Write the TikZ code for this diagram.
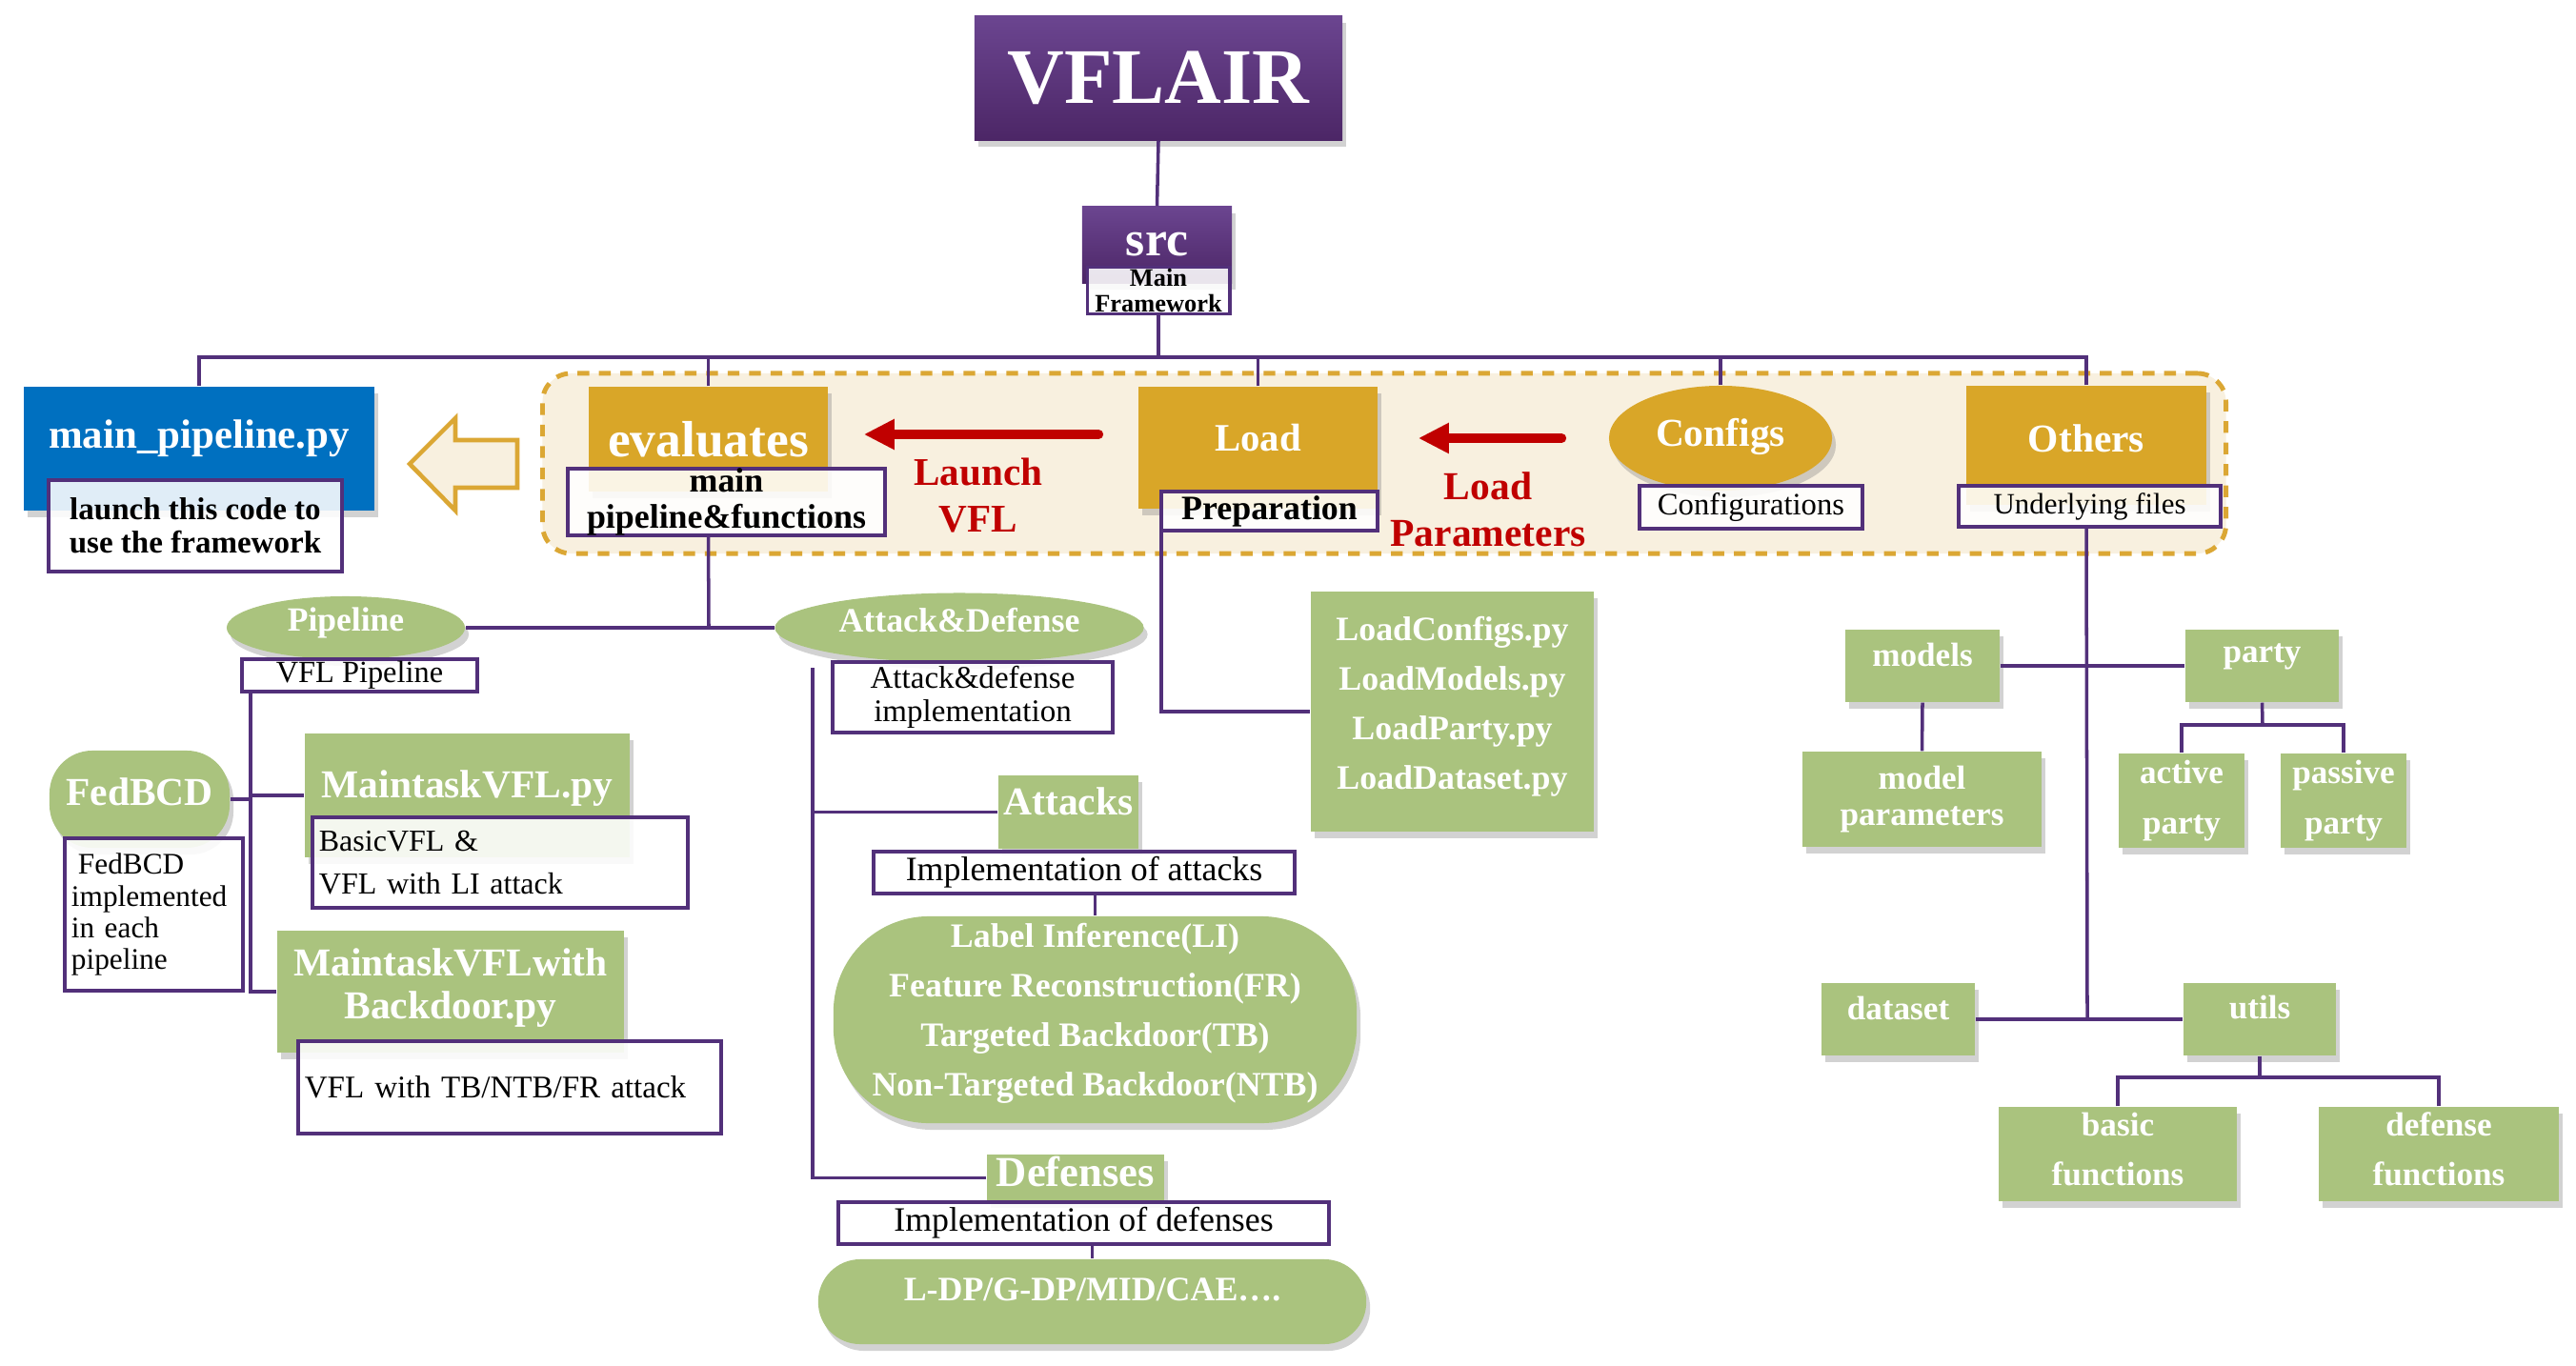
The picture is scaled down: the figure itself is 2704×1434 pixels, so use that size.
\documentclass[tikz,border=0pt]{standalone}
\usepackage{fontspec}
\setmainfont{Liberation Serif}
\usetikzlibrary{shadows,arrows.meta,calc,shapes.geometric}
\definecolor{vpurpleT}{HTML}{6B4590}
\definecolor{vpurpleB}{HTML}{4C2666}
\definecolor{lnpurple}{HTML}{52307A}
\definecolor{gold}{HTML}{D9A628}
\definecolor{vgreen}{HTML}{AAC37E}
\definecolor{vblue}{HTML}{0070C0}
\definecolor{vred}{HTML}{C00000}
\definecolor{cream}{HTML}{F8F0DF}
\definecolor{dashgold}{HTML}{DBA734}
\newcommand\fsz[2]{\fontsize{#1}{#2}\selectfont}
\begin{document}
\begin{tikzpicture}[x=0.01cm,y=-0.01cm,
  conn/.style={draw=lnpurple,line width=1pt},
  shad/.style={drop shadow={shadow xshift=0.04cm,shadow yshift=-0.07cm,opacity=0.35}},
  pbox/.style={top color=vpurpleT,bottom color=vpurpleB,draw=none,text=white,inner sep=0pt,shad},
  gbox/.style={fill=gold,text=white,inner sep=0pt,shad},
  grn/.style={fill=vgreen,text=white,inner sep=0pt,align=center,shad},
  lbl/.style={draw=lnpurple,line width=1.1pt,fill=white,fill opacity=0.88,text opacity=1,inner sep=0pt,align=center,text=black},
  txt/.style={inner sep=0pt,align=center},
  wtxt/.style={inner sep=0pt,align=center,text=white},
  redarr/.style={draw=vred,line width=2.8pt,line cap=round,-{Triangle[length=0.32cm,width=0.30cm]}},
]
\fill[white] (0,0) rectangle (2704,1434);
\useasboundingbox (0,0) rectangle (2704,1434);

% dashed region
\node[draw=dashgold,line width=1.4pt,dash pattern=on 3.5pt off 2.9pt,fill=cream,rounded corners=0.3cm,minimum width=17.66cm,minimum height=1.89cm,inner sep=0pt] (region) at (1453,486.5) {};

% top
\node[pbox,minimum width=3.86cm,minimum height=1.30cm,font=\bfseries\fsz{23.5}{28}] (vflair) at (1216,82) {VFLAIR};
\node[pbox,minimum width=1.57cm,minimum height=0.80cm,font=\bfseries\fsz{14.7}{16}] (src) at (1214.5,257) {src};
\node[lbl,minimum width=1.49cm,minimum height=0.49cm,font=\bfseries\fsz{7.5}{7.8}] (srclbl) at (1216,305) {Main\\Framework};

% main pipeline
\node[fill=vblue,inner sep=0pt,shad,minimum width=3.68cm,minimum height=1.30cm] (mainpy) at (209,471) {};
\node[wtxt,font=\bfseries\fsz{12.2}{14}] (mainpy-t) at (209,460) {main\_pipeline.py};
\node[lbl,minimum width=3.08cm,minimum height=0.96cm,font=\bfseries\fsz{9.4}{9.9}] (mainlbl) at (205,552) {launch this code to\\use the framework};
\draw[draw=dashgold,line width=1.3pt,fill=cream,line join=miter] (430,487) -- (478,439) -- (478,462) -- (543,462) -- (543,512) -- (478,512) -- (478,536) -- cycle;

% gold row
\node[gbox,minimum width=2.51cm,minimum height=1.10cm,font=\bfseries\fsz{15.2}{17}] (eval) at (743.5,461) {evaluates};
\node[lbl,minimum width=3.33cm,minimum height=0.70cm,font=\bfseries\fsz{10.2}{10.6}] (evlbl) at (762.5,527) {main\\pipeline\&functions};
\node[gbox,minimum width=2.51cm,minimum height=1.28cm] (load) at (1320.5,470) {};
\node[wtxt,font=\bfseries\fsz{11.6}{13}] (load-t) at (1320.5,460) {Load};
\node[lbl,minimum width=2.27cm,minimum height=0.41cm,font=\bfseries\fsz{10.2}{11}] (prep) at (1332.5,536.5) {Preparation};
\node[ellipse,fill=gold,inner sep=0pt,shad,minimum width=2.34cm,minimum height=1.10cm] (configs) at (1806,460) {};
\node[wtxt,font=\bfseries\fsz{11.8}{13}] (configs-t) at (1806,458) {Configs};
\node[lbl,minimum width=2.34cm,minimum height=0.45cm,font=\fsz{9.3}{10}] (cfglbl) at (1838,532.5) {Configurations};
\node[gbox,minimum width=2.52cm,minimum height=1.25cm] (others) at (2190,467.5) {};
\node[wtxt,font=\bfseries\fsz{11.8}{13}] (others-t) at (2190,460) {Others};
\node[lbl,minimum width=2.75cm,minimum height=0.43cm,font=\fsz{8.8}{10}] (othlbl) at (2193.5,531.5) {Underlying files};

\node[txt,text=vred,font=\bfseries\fsz{11.7}{14}] (launch) at (1027,520) {Launch\\VFL};
\node[txt,text=vred,font=\bfseries\fsz{11.8}{14}] (loadpar) at (1562,535) {Load\\Parameters};
\draw[redarr] ($(load.west)+(-41,-14)$) -- ($(eval.east)+(37,-5)$);
\draw[redarr] ($(configs.west)+(-49,0)$) -- ($(load.east)+(42,-10)$);

% pipeline subtree
\node[ellipse,grn,minimum width=2.50cm,minimum height=0.66cm,text depth=0.18cm,font=\bfseries\fsz{10.1}{12}] (pipe) at (363,659) {Pipeline};
\node[lbl,minimum width=2.47cm,minimum height=0.34cm,font=\fsz{9.2}{10}] (pipelbl) at (377.5,709) {VFL Pipeline};
\node[grn,rounded corners=0.45cm,minimum width=1.89cm,minimum height=1.02cm] (fed) at (146.5,839) {};
\node[wtxt,font=\bfseries\fsz{11.8}{13}] (fed-t) at (146.5,831) {FedBCD};
\node[lbl,align=left,text width=1.73cm,inner xsep=0.07cm,minimum height=1.60cm,font=\fsz{8.9}{9.4}] (fedlbl) at (161.5,960) {\hspace{0.07cm}FedBCD\\implemented\\in each\\pipeline};
\node[grn,minimum width=3.41cm,minimum height=1.30cm] (mt1) at (490.5,835) {};
\node[wtxt,font=\bfseries\fsz{11.8}{13}] (mt1-t) at (490.5,828) {MaintaskVFL.py};
\node[lbl,align=left,text width=3.80cm,inner xsep=0.07cm,minimum height=0.95cm,font=\fsz{9.1}{13}] (mt1lbl) at (525,905.5) {BasicVFL \&\\VFL with LI attack};
\node[grn,minimum width=3.64cm,minimum height=1.28cm] (mt2) at (473,1041) {};
\node[wtxt,font=\bfseries\fsz{11.8}{12.8}] (mt2-t) at (473,1037) {MaintaskVFLwith\\Backdoor.py};
\node[lbl,align=left,text width=4.30cm,inner xsep=0.07cm,minimum height=0.97cm,font=\fsz{9.4}{11}] (mt2lbl) at (535,1141.5) {VFL with TB/NTB/FR attack};

% attack & defense subtree
\node[ellipse,grn,minimum width=3.87cm,minimum height=0.73cm,text depth=0.16cm,font=\bfseries\fsz{10.2}{12}] (ad) at (1007,659) {Attack\&Defense};
\node[lbl,minimum width=2.94cm,minimum height=0.74cm,font=\fsz{9.4}{10}] (adlbl) at (1021,732) {Attack\&defense\\implementation};
\node[grn,minimum width=1.47cm,minimum height=0.77cm] (attacks) at (1121.5,852.5) {};
\node[wtxt,font=\bfseries\fsz{11.8}{13}] (attacks-t) at (1121.5,841) {Attacks};
\node[lbl,minimum width=4.42cm,minimum height=0.44cm,font=\fsz{10.2}{11}] (attlbl) at (1138,916) {Implementation of attacks};
\node[grn,rounded corners=1.0cm,minimum width=5.49cm,minimum height=2.17cm,text depth=0.22cm,font=\bfseries\fsz{10.2}{14.8}] (attlist) at (1149.5,1070.5) {Label Inference(LI)\\Feature Reconstruction(FR)\\Targeted Backdoor(TB)\\Non-Targeted Backdoor(NTB)};
\node[grn,minimum width=1.86cm,minimum height=0.49cm,text depth=0.14cm,font=\bfseries\fsz{12.7}{14}] (defenses) at (1129,1236.5) {Defenses};
\node[lbl,minimum width=5.15cm,minimum height=0.44cm,font=\fsz{10.2}{11}] (deflbl) at (1137.5,1284) {Implementation of defenses};
\node[grn,rounded corners=0.44cm,minimum width=5.75cm,minimum height=0.89cm,text depth=0.25cm,font=\bfseries\fsz{10.2}{12}] (deflist) at (1146.5,1366.5) {L-DP/G-DP/MID/CAE….};

% load subtree
\node[grn,minimum width=2.97cm,minimum height=2.52cm,text depth=0.18cm,font=\bfseries\fsz{10.2}{14.8}] (loadcfg) at (1524.5,747) {LoadConfigs.py\\LoadModels.py\\LoadParty.py\\LoadDataset.py};

% others subtree
\node[grn,minimum width=1.62cm,minimum height=0.76cm] (models) at (2018,699) {};
\node[wtxt,font=\bfseries\fsz{10}{11}] (models-t) at (2018,687) {models};
\node[grn,minimum width=1.61cm,minimum height=0.76cm] (party) at (2374.5,699) {};
\node[wtxt,font=\bfseries\fsz{10}{11}] (party-t) at (2374.5,689) {party};
\node[grn,minimum width=2.51cm,minimum height=1.00cm,font=\bfseries\fsz{10}{10.8}] (mparam) at (2017.5,839) {model\\parameters};
\node[grn,minimum width=1.32cm,minimum height=0.99cm,font=\bfseries\fsz{10}{15}] (active) at (2290,840.5) {active\\party};
\node[grn,minimum width=1.32cm,minimum height=0.99cm,font=\bfseries\fsz{10}{15}] (passive) at (2460,840.5) {passive\\party};
\node[grn,minimum width=1.61cm,minimum height=0.76cm] (dataset) at (1992.5,1070) {};
\node[wtxt,font=\bfseries\fsz{10}{11}] (dataset-t) at (1992.5,1058) {dataset};
\node[grn,minimum width=1.60cm,minimum height=0.76cm] (utils) at (2372,1070) {};
\node[wtxt,font=\bfseries\fsz{10}{11}] (utils-t) at (2372,1058) {utils};
\node[grn,minimum width=2.50cm,minimum height=0.99cm,text depth=0.1cm,font=\bfseries\fsz{10}{14.8}] (basic) at (2223,1211.5) {basic\\functions};
\node[grn,minimum width=2.52cm,minimum height=0.99cm,text depth=0.1cm,font=\bfseries\fsz{10}{14.8}] (deffun) at (2560,1211.5) {defense\\functions};

% connectors
\coordinate (bus) at (1216,375);
\draw[conn] (srclbl.south) -- (bus);
\draw[conn] (vflair.south) -- (src.north);
\draw[conn] (mainpy.north) |- (bus);
\draw[conn] (eval.north) |- (bus);
\draw[conn] (load.north) |- (bus);
\draw[conn] (configs.north) |- (bus);
\draw[conn] (others.north) |- (bus);

\coordinate (evj) at (744,659);
\draw[conn] (evlbl.south -| eval.south) -- (evj);
\draw[conn] (pipe.east) -- (evj) -- (ad.west);

\coordinate (pv) at (263,726);
\draw[conn] (pv) |- (mt1.west);
\draw[conn] (pv) |- (mt2.west);
\draw[conn] (fed.east) -- (fed.east -| pv);

\coordinate (av) at (853,701);
\draw[conn] (av) |- (attacks.west);
\draw[conn] (av) |- (defenses.west);
\draw[conn] (attlbl.south -| attlist.north) -- (attlist.north);
\draw[conn] (deflbl.south -| deflist.north) -- (deflist.north);

\draw[conn] ([xshift=0.02cm]prep.south west) |- (loadcfg.west);

\coordinate (rj) at (2191,1070);
\draw[conn] (othlbl.south -| others.south) -- (rj);
\draw[conn] (models.east) -- (party.west);
\draw[conn] (dataset.east) -- (utils.west);
\draw[conn] (models.south) -- (mparam.north);
\coordinate (pj) at (2375,761);
\draw[conn] (party.south) -- (pj);
\draw[conn] (active.north) |- (pj);
\draw[conn] (passive.north) |- (pj);
\coordinate (uj) at (2372,1131);
\draw[conn] (utils.south) -- (uj);
\draw[conn] (basic.north) |- (uj);
\draw[conn] (deffun.north) |- (uj);
\end{tikzpicture}
\end{document}
